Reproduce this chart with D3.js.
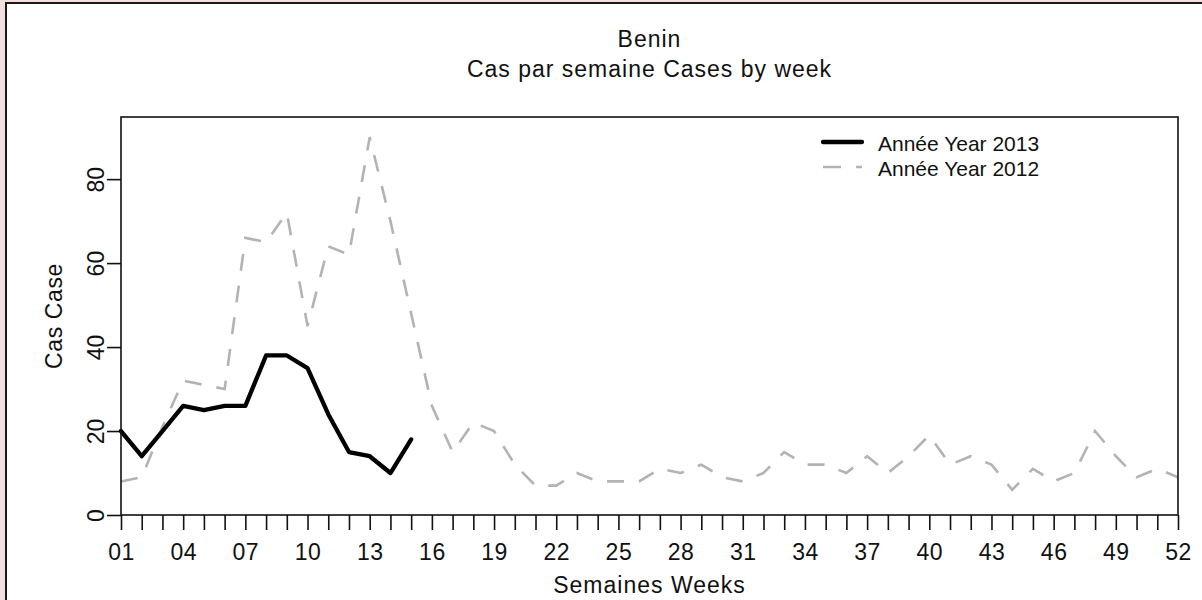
<!DOCTYPE html>
<html>
<head>
<meta charset="utf-8">
<script src="https://cdn.jsdelivr.net/npm/d3@7"></script>
<style>
  html, body { margin: 0; padding: 0; background: #f1dede; }
  svg { display: block; }
</style>
</head>
<body>
<svg id="chart"></svg>
<script>
var width = 1202;
var height = 600;

// weeks 1..52
var weeks = d3.range(1, 53);

// cases per week, year 2013 (weeks 1-15)
var cases2013 = [20, 14, 20, 26, 25, 26, 26, 38, 38, 35, 24, 15, 14, 10, 18];

// cases per week, year 2012 (weeks 1-52)
var cases2012 = [8, 9, 21, 32, 31, 30, 66, 65, 72, 45,
                 64, 62, 90, 70, 48, 26, 15, 22, 20, 12,
                 7, 7, 10, 8, 8, 8, 11, 10, 12, 9,
                 8, 10, 15, 12, 12, 10, 14, 10, 14, 19,
                 12, 14, 12, 6, 11, 8, 10, 20, 14, 9,
                 11, 9];

var xLabelWeeks = [1, 4, 7, 10, 13, 16, 19, 22, 25, 28, 31, 34, 37, 40, 43, 46, 49, 52];
var xLabels = ['01', '04', '07', '10', '13', '16', '19', '22', '25', '28', '31', '34', '37', '40', '43', '46', '49', '52'];
var yTicks = [0, 20, 40, 60, 80];

var seriesNames = ['Année Year 2013', 'Année Year 2012'];

var box = {left: 121, right: 1178, top: 117, bottom: 515};
var font = '"Liberation Sans", Arial, sans-serif';

var x = d3.scaleLinear()
    .domain([1, 52])
    .range([box.left, box.right]);

var y = d3.scaleLinear()
    .domain([0, 94.8])
    .range([box.bottom, box.top]);

const svg = d3.select('#chart')
    .attr('width', width)
    .attr('height', height)
    .attr('font-family', font);

// white panel with dark frame
svg.append('rect')
    .attr('x', 6).attr('y', 3)
    .attr('width', width + 10).attr('height', height + 10)
    .attr('fill', 'white')
    .attr('stroke', '#1a1a1a')
    .attr('stroke-width', 2);

// titles
svg.append('text')
    .attr('x', (box.left + box.right) / 2)
    .attr('y', 46.5)
    .attr('text-anchor', 'middle')
    .attr('font-size', 23)
    .attr('letter-spacing', 1)
    .attr('fill', '#111')
    .text('Benin');

svg.append('text')
    .attr('x', (box.left + box.right) / 2)
    .attr('y', 77)
    .attr('text-anchor', 'middle')
    .attr('font-size', 23)
    .attr('letter-spacing', 1)
    .attr('fill', '#111')
    .text('Cas par semaine Cases by week');

// x axis
const xAxis = d3.axisBottom(x)
    .tickValues(weeks)
    .tickSize(15)
    .tickSizeOuter(0)
    .tickFormat(d => {
        var i = xLabelWeeks.indexOf(d);
        return i >= 0 ? xLabels[i] : '';
    });

const gx = svg.append('g')
    .attr('transform', `translate(0,${box.bottom})`)
    .call(xAxis);

gx.select('.domain').remove();
gx.selectAll('.tick line').attr('stroke', '#111').attr('stroke-width', 1.6);
gx.selectAll('.tick text')
    .attr('y', 45)
    .attr('dy', null)
    .attr('font-size', 23)
    .attr('letter-spacing', 0.5)
    .attr('font-family', font)
    .attr('fill', '#111');

// y axis
const yAxis = d3.axisLeft(y)
    .tickValues(yTicks)
    .tickSize(14)
    .tickSizeOuter(0);

const gy = svg.append('g')
    .attr('transform', `translate(${box.left},0)`)
    .call(yAxis);

gy.select('.domain').remove();
gy.selectAll('.tick line').attr('stroke', '#111').attr('stroke-width', 1.6);
gy.selectAll('.tick text')
    .attr('x', null)
    .attr('dy', null)
    .attr('transform', 'translate(-17,0) rotate(-90)')
    .attr('text-anchor', 'middle')
    .attr('font-size', 23)
    .attr('font-family', font)
    .attr('fill', '#111');

// axis titles
svg.append('text')
    .attr('x', (box.left + box.right) / 2)
    .attr('y', 593)
    .attr('text-anchor', 'middle')
    .attr('font-size', 23)
    .attr('letter-spacing', 1)
    .attr('fill', '#111')
    .text('Semaines Weeks');

svg.append('text')
    .attr('transform', `translate(62,${(box.top + box.bottom) / 2}) rotate(-90)`)
    .attr('text-anchor', 'middle')
    .attr('font-size', 23)
    .attr('letter-spacing', 0.6)
    .attr('fill', '#111')
    .text('Cas Case');

// lines
const line = d3.line()
    .x((d, i) => x(weeks[i]))
    .y(d => y(d));

svg.append('path')
    .datum(cases2012)
    .attr('fill', 'none')
    .attr('stroke', '#b3b3b3')
    .attr('stroke-width', 2.6)
    .attr('stroke-dasharray', '17,15')
    .attr('d', line);

svg.append('path')
    .datum(cases2013)
    .attr('fill', 'none')
    .attr('stroke', '#000')
    .attr('stroke-width', 4.3)
    .attr('stroke-linejoin', 'round')
    .attr('stroke-linecap', 'round')
    .attr('d', line);

// plot box
svg.append('rect')
    .attr('x', box.left).attr('y', box.top)
    .attr('width', box.right - box.left)
    .attr('height', box.bottom - box.top)
    .attr('fill', 'none')
    .attr('stroke', '#111')
    .attr('stroke-width', 1.6);

// legend
const legend = svg.append('g');
const legendRows = [
    {name: seriesNames[0], color: '#000', w: 4.3, dash: null, cy: 142},
    {name: seriesNames[1], color: '#b3b3b3', w: 2.6, dash: '18,15', cy: 167}
];

legendRows.forEach(r => {
    legend.append('line')
        .attr('x1', 823).attr('x2', 862)
        .attr('y1', r.cy).attr('y2', r.cy)
        .attr('stroke', r.color)
        .attr('stroke-width', r.w)
        .attr('stroke-linecap', r.dash ? 'butt' : 'round')
        .attr('stroke-dasharray', r.dash);
    legend.append('text')
        .attr('x', 878)
        .attr('y', r.cy + 9)
        .attr('font-size', 21)
        .attr('fill', '#111')
        .text(r.name);
});
</script>
</body>
</html>
